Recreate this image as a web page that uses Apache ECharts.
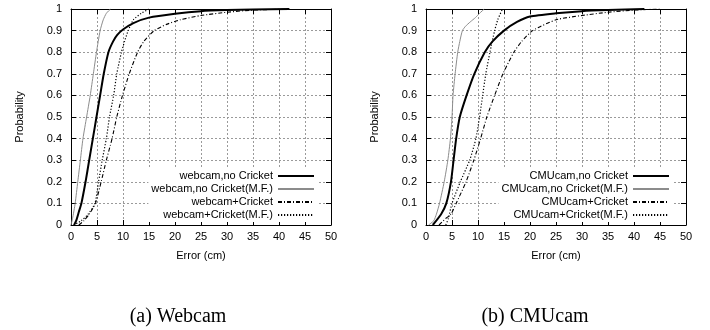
<!DOCTYPE html>
<html>
<head>
<meta charset="utf-8">
<script src="https://cdn.jsdelivr.net/npm/echarts@6/dist/echarts.min.js"></script>
<style>html,body{margin:0;padding:0;background:#fff}#c{width:710px;height:330px}</style>
</head>
<body>
<div id="c"></div>
<script>
// ---- data (x = error in cm, y = cumulative probability) ----
const xTicks = [0,5,10,15,20,25,30,35,40,45,50];
const yTicks = [0,0.1,0.2,0.3,0.4,0.5,0.6,0.7,0.8,0.9,1];
const namesWebcam = ['webcam,no Cricket','webcam,no Cricket(M.F.)','webcam+Cricket','webcam+Cricket(M.F.)'];
const namesCmu = ['CMUcam,no Cricket','CMUcam,no Cricket(M.F.)','CMUcam+Cricket','CMUcam+Cricket(M.F.)'];
const captions = ['(a) Webcam','(b) CMUcam'];
const axisNameX = 'Error (cm)';
const axisNameY = 'Probability';

const webcamNoCricket = [[0.6,0],[1,0.02],[1.5,0.06],[2,0.1],[2.8,0.2],[3.5,0.3],[4.2,0.4],[4.9,0.5],[5.6,0.6],[6.3,0.7],[7.2,0.8],[8.1,0.85],[8.9,0.88],[10,0.905],[12,0.935],[15,0.96],[20,0.978],[25,0.99],[30,0.995],[35,0.998],[42,1]];
const webcamNoCricketMF = [[0,0],[0.3,0.03],[0.8,0.1],[1.3,0.2],[1.8,0.3],[2.3,0.4],[3,0.5],[3.7,0.6],[4.3,0.7],[4.9,0.8],[5.6,0.9],[6.2,0.95],[6.8,0.98],[7.6,1]];
const webcamCricket = [[1.5,0],[2.5,0.02],[3.5,0.05],[4.7,0.1],[5.8,0.2],[6.8,0.3],[7.9,0.4],[8.8,0.5],[9.9,0.6],[11.2,0.7],[12.8,0.8],[14,0.85],[16,0.9],[18.5,0.93],[21,0.95],[25,0.97],[30,0.985],[35,0.995],[42,1]];
const webcamCricketMF = [[0.5,0],[2,0.02],[3.3,0.05],[4.6,0.1],[5.3,0.2],[6,0.3],[6.8,0.4],[7.4,0.5],[8.2,0.6],[8.8,0.7],[9.7,0.8],[10.3,0.85],[11,0.9],[12,0.95],[13.5,0.98],[15,1]];

const cmuNoCricket = [[1.3,0],[2.9,0.05],[3.9,0.1],[4.8,0.2],[5.3,0.3],[5.8,0.4],[6.5,0.5],[7.8,0.6],[9.3,0.7],[11.3,0.8],[12.8,0.85],[15,0.9],[17.5,0.94],[20,0.965],[25,0.98],[30,0.99],[35,0.995],[42,1]];
const cmuNoCricketMF = [[0.5,0],[1.5,0.02],[2,0.05],[2.6,0.1],[3.5,0.2],[4.2,0.3],[4.7,0.4],[5,0.5],[5.2,0.6],[5.6,0.7],[6.1,0.8],[6.5,0.85],[7,0.9],[7.6,0.92],[8.5,0.94],[9.5,0.96],[10.3,0.98],[11.2,1]];
const cmuCricket = [[2.5,0],[3.8,0.03],[4.8,0.05],[5.8,0.1],[7.7,0.2],[9.2,0.3],[10.5,0.4],[11.7,0.5],[13.2,0.6],[14.8,0.7],[16.9,0.8],[18.4,0.85],[20.5,0.9],[25,0.95],[30,0.97],[35,0.985],[40,0.995],[45,1]];
const cmuCricketMF = [[3.8,0],[4.3,0.03],[5,0.1],[6.6,0.2],[8.4,0.3],[9.6,0.4],[10.3,0.5],[10.9,0.6],[11.5,0.7],[12.3,0.8],[13.2,0.9],[13.8,0.95],[14.7,1]];

// ---- chart ----
const FONT = '"Liberation Sans", Arial, Helvetica, sans-serif';
const SERIF = '"Liberation Serif", "Times New Roman", serif';
const xStep = xTicks[1] - xTicks[0];
const yStep = +(yTicks[1] - yTicks[0]).toFixed(3);

const gridStyle = {show: true, lineStyle: {color: '#9a9a9a', width: 1, type: [2, 2]}};
function xAxis(gi, pos) {
  const main = pos === 'bottom';
  return {
    type: 'value', gridIndex: gi, position: pos,
    min: xTicks[0], max: xTicks[xTicks.length - 1], interval: xStep,
    name: main ? axisNameX : '', nameLocation: 'middle', nameGap: 25,
    nameTextStyle: {fontFamily: FONT, fontSize: 11, color: '#000'},
    axisLine: {show: true, onZero: false, lineStyle: {color: '#000', width: 1}},
    axisTick: {show: true, inside: true, length: 5, lineStyle: {color: '#000'}},
    axisLabel: {show: main, fontFamily: FONT, fontSize: 11, color: '#000', margin: 6},
    splitLine: main ? gridStyle : {show: false}
  };
}
function yAxis(gi, pos) {
  const main = pos === 'left';
  return {
    type: 'value', gridIndex: gi, position: pos,
    min: yTicks[0], max: yTicks[yTicks.length - 1], interval: yStep,
    name: main ? axisNameY : '', nameLocation: 'middle', nameGap: 46,
    nameTextStyle: {fontFamily: FONT, fontSize: 11, color: '#000'},
    axisLine: {show: true, onZero: false, lineStyle: {color: '#000', width: 1}},
    axisTick: {show: true, inside: true, length: 5, lineStyle: {color: '#000'}},
    axisLabel: {show: main, fontFamily: FONT, fontSize: 11, color: '#000', margin: 9},
    splitLine: main ? gridStyle : {show: false}
  };
}

const styles = [
  {color: '#000', width: 2, type: 'solid'},
  {color: '#8c8c8c', width: 1, type: 'solid'},
  {color: '#000', width: 1.1, type: [4, 2, 1, 2]},
  {color: '#000', width: 1.2, type: [1.2, 1.8]}
];
function mk(name, data, k, gi) {
  return {
    type: 'line', name: name, data: data, xAxisIndex: gi * 2, yAxisIndex: gi * 2,
    showSymbol: false, symbol: 'none', smooth: 0.2, animation: false,
    lineStyle: styles[k], itemStyle: {color: styles[k].color}, z: 3 - (k === 0 ? 0 : 1)
  };
}
function legend(names, right) {
  return {
    orient: 'vertical', align: 'right', right: right, top: 169,
    itemWidth: 36, itemHeight: 12, itemGap: 1, padding: [1, 3, 1, 3],
    backgroundColor: '#fff', selectedMode: false,
    itemStyle: {color: 'rgba(0,0,0,0)', borderColor: 'rgba(0,0,0,0)', borderWidth: 0, opacity: 0},
    textStyle: {fontFamily: FONT, fontSize: 11, color: '#000', lineHeight: 12},
    data: names
  };
}

const chart = echarts.init(document.getElementById('c'), null, {renderer: 'canvas'});
chart.setOption({
  animation: false,
  backgroundColor: '#fff',
  grid: [
    {left: 71, top: 9, width: 260, height: 216, show: false},
    {left: 426, top: 9, width: 260, height: 216, show: false}
  ],
  xAxis: [xAxis(0, 'bottom'), xAxis(0, 'top'), xAxis(1, 'bottom'), xAxis(1, 'top')],
  yAxis: [yAxis(0, 'left'), yAxis(0, 'right'), yAxis(1, 'left'), yAxis(1, 'right')],
  legend: [legend(namesWebcam, 392), legend(namesCmu, 37)],
  series: [
    mk(namesWebcam[0], webcamNoCricket, 0, 0),
    mk(namesWebcam[1], webcamNoCricketMF, 1, 0),
    mk(namesWebcam[2], webcamCricket, 2, 0),
    mk(namesWebcam[3], webcamCricketMF, 3, 0),
    mk(namesCmu[0], cmuNoCricket, 0, 1),
    mk(namesCmu[1], cmuNoCricketMF, 1, 1),
    mk(namesCmu[2], cmuCricket, 2, 1),
    mk(namesCmu[3], cmuCricketMF, 3, 1)
  ],
  graphic: [
    {type: 'text', x: 178, y: 317, style: {text: captions[0], font: '20px ' + SERIF, fill: '#000', align: 'center', verticalAlign: 'middle'}},
    {type: 'text', x: 535, y: 317, style: {text: captions[1], font: '20px ' + SERIF, fill: '#000', align: 'center', verticalAlign: 'middle'}}
  ]
});
</script>
</body>
</html>
